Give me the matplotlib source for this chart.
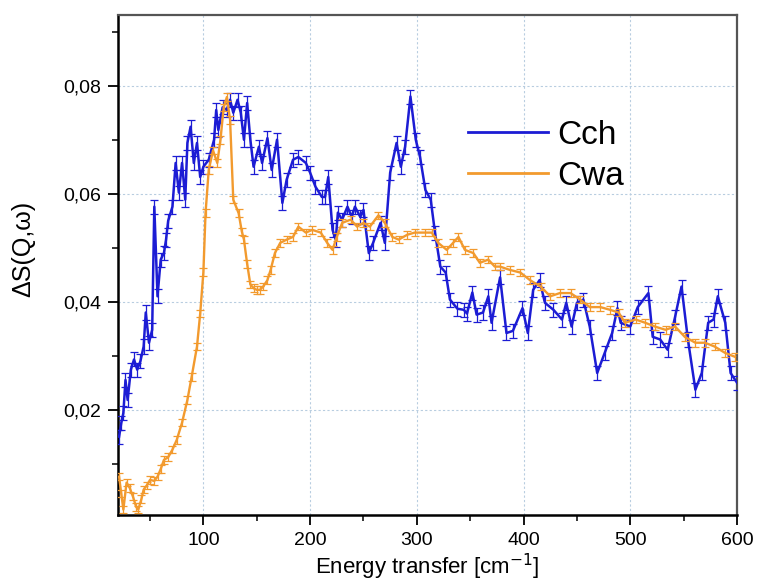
import matplotlib
matplotlib.use('Agg')
import matplotlib.pyplot as plt
from matplotlib.ticker import MultipleLocator, FuncFormatter
from matplotlib.lines import Line2D

plt.rcParams['font.family'] = ['Liberation Sans', 'DejaVu Sans']

# Cch spectrum (energy transfer, Delta S)
cch_x = [21, 23, 25, 27, 29, 32, 35, 38, 41, 44, 46, 49, 52, 54, 57, 60, 63, 65, 67, 71,
         74, 77, 80, 83, 85, 88, 91, 94, 97, 100, 105, 110, 112, 114, 118, 122, 125, 128, 132, 135,
         138, 141, 144, 147, 152, 155, 160, 164, 169, 174, 178, 184, 189, 196, 200, 205, 211, 214, 217, 221,
         224, 226, 230, 235, 239, 242, 247, 250, 255, 259, 266, 270, 275, 281, 285, 289, 294, 299, 303, 308,
         313, 317, 322, 327, 331, 338, 344, 347, 352, 356, 362, 367, 370, 378, 384, 390, 399, 404, 409, 415,
         420, 428, 436, 440, 445, 450, 456, 462, 469, 476, 483, 488, 491, 500, 507, 517, 521, 528, 535, 542,
         548, 554, 561, 567, 573, 578, 582, 589, 594, 600]
cch_y = [0.0150, 0.0175, 0.0194, 0.0255, 0.0218, 0.0274, 0.0293, 0.0274, 0.0290, 0.0317,
         0.0380, 0.0324, 0.0348, 0.0576, 0.0410, 0.0478, 0.0490, 0.0515, 0.0550, 0.0576,
         0.0657, 0.0602, 0.0657, 0.0589, 0.0694, 0.0724, 0.0657, 0.0694, 0.0631, 0.0650,
         0.0663, 0.0700, 0.0755, 0.0718, 0.0760, 0.0755, 0.0774, 0.0750, 0.0774, 0.0750,
         0.0700, 0.0768, 0.0700, 0.0650, 0.0687, 0.0657, 0.0703, 0.0644, 0.0700, 0.0583,
         0.0626, 0.0663, 0.0668, 0.0657, 0.0639, 0.0613, 0.0594, 0.0594, 0.0631, 0.0533,
         0.0515, 0.0565, 0.0552, 0.0576, 0.0557, 0.0576, 0.0557, 0.0570, 0.0490, 0.0509,
         0.0546, 0.0509, 0.0639, 0.0694, 0.0650, 0.0687, 0.0780, 0.0700, 0.0668, 0.0607,
         0.0589, 0.0528, 0.0465, 0.0454, 0.0404, 0.0387, 0.0385, 0.0378, 0.0417, 0.0376,
         0.0380, 0.0410, 0.0361, 0.0445, 0.0342, 0.0346, 0.0388, 0.0342, 0.0422, 0.0440,
         0.0398, 0.0385, 0.0367, 0.0398, 0.0354, 0.0398, 0.0404, 0.0354, 0.0268, 0.0305,
         0.0342, 0.0388, 0.0361, 0.0354, 0.0390, 0.0416, 0.0335, 0.0330, 0.0311, 0.0372,
         0.0428, 0.0330, 0.0237, 0.0268, 0.0361, 0.0367, 0.0410, 0.0361, 0.0268, 0.0250]

# Cwa spectrum
cwa_x = [21, 23, 25, 28, 31, 34, 37, 39, 42, 44, 47, 50, 54, 57, 60, 63, 67, 71, 75, 80,
         85, 89, 94, 97, 100, 102, 105, 109, 113, 116, 119, 122, 125, 128, 133, 136, 138, 141, 144, 147,
         150, 153, 156, 160, 163, 167, 172, 178, 184, 189, 196, 202, 210, 216, 221, 225, 230, 238, 244, 250,
         256, 264, 270, 277, 283, 291, 298, 308, 314, 320, 328, 334, 339, 345, 353, 359, 367, 373, 378, 387,
         397, 406, 416, 425, 434, 444, 453, 462, 472, 481, 489, 495, 505, 514, 523, 533, 542, 551, 561, 570,
         579, 589, 598]
cwa_y = [0.0076, 0.0045, 0.0015, 0.0065, 0.0055, 0.0039, 0.0020, 0.0015, 0.0035, 0.0052,
         0.0060, 0.0070, 0.0068, 0.0076, 0.0090, 0.0107, 0.0112, 0.0126, 0.0144, 0.0176,
         0.0218, 0.0261, 0.0317, 0.0378, 0.0455, 0.0564, 0.0644, 0.0680, 0.0657, 0.0700,
         0.0760, 0.0779, 0.0737, 0.0589, 0.0564, 0.0530, 0.0515, 0.0470, 0.0432, 0.0425,
         0.0422, 0.0422, 0.0428, 0.0440, 0.0459, 0.0490, 0.0509, 0.0515, 0.0520, 0.0539,
         0.0528, 0.0533, 0.0528, 0.0509, 0.0496, 0.0520, 0.0546, 0.0552, 0.0539, 0.0546,
         0.0539, 0.0560, 0.0546, 0.0520, 0.0515, 0.0524, 0.0528, 0.0528, 0.0528, 0.0509,
         0.0496, 0.0509, 0.0520, 0.0496, 0.0490, 0.0472, 0.0478, 0.0465, 0.0465, 0.0459,
         0.0454, 0.0440, 0.0428, 0.0410, 0.0416, 0.0416, 0.0404, 0.0390, 0.0390, 0.0385,
         0.0380, 0.0361, 0.0367, 0.0361, 0.0354, 0.0348, 0.0354, 0.0335, 0.0324, 0.0324,
         0.0317, 0.0305, 0.0298]

cch_err = 0.0013
cwa_err = 0.0007

blue = '#1c1cd4'
orange = '#f29a2e'

fig = plt.figure(figsize=(7.58, 5.86), dpi=100)
ax = fig.add_axes([0.1557, 0.1212, 0.8166, 0.8532])

ax.errorbar(cch_x, cch_y, yerr=cch_err, color=blue, lw=1.8, elinewidth=0.9,
            capsize=3, capthick=0.9, zorder=3)
ax.errorbar(cwa_x, cwa_y, yerr=cwa_err, color=orange, lw=1.7, elinewidth=0.9,
            capsize=3, capthick=0.9, zorder=4)

ax.set_xlim(20, 600)
ax.set_ylim(0.0005, 0.0931)

ax.xaxis.set_major_locator(MultipleLocator(100))
ax.xaxis.set_minor_locator(MultipleLocator(50))
ax.yaxis.set_major_locator(MultipleLocator(0.02))
ax.yaxis.set_minor_locator(MultipleLocator(0.01))
ax.yaxis.set_major_formatter(FuncFormatter(lambda v, p: f'{v:.2f}'.replace('.', ',')))

ax.tick_params(which='major', direction='out', length=7, width=1.3, labelsize=14, pad=5)
ax.tick_params(which='minor', direction='out', length=4, width=1.1)

ax.grid(True, which='major', color='#b8cde0', linestyle=(0, (2, 2)), linewidth=0.8)
ax.set_axisbelow(True)

for s in ['left', 'bottom']:
    ax.spines[s].set_linewidth(1.8)
    ax.spines[s].set_color('black')
for s in ['top', 'right']:
    ax.spines[s].set_linewidth(1.6)
    ax.spines[s].set_color('#555555')

ax.set_xlabel('Energy transfer [cm$^{-1}$]', fontsize=16, labelpad=2)
ax.set_ylabel('ΔS(Q,ω)', fontsize=18)
ax.yaxis.set_label_coords(-0.134, 0.532)

handles = [Line2D([], [], color=blue, lw=2), Line2D([], [], color=orange, lw=2)]
ax.legend(handles, ['Cch', 'Cwa'], loc='upper left', bbox_to_anchor=(0.565, 0.79),
          frameon=False, fontsize=24, handlelength=2.4, handletextpad=0.3,
          labelspacing=0.3, borderpad=0, borderaxespad=0)

fig.savefig('out.png', dpi=100)
